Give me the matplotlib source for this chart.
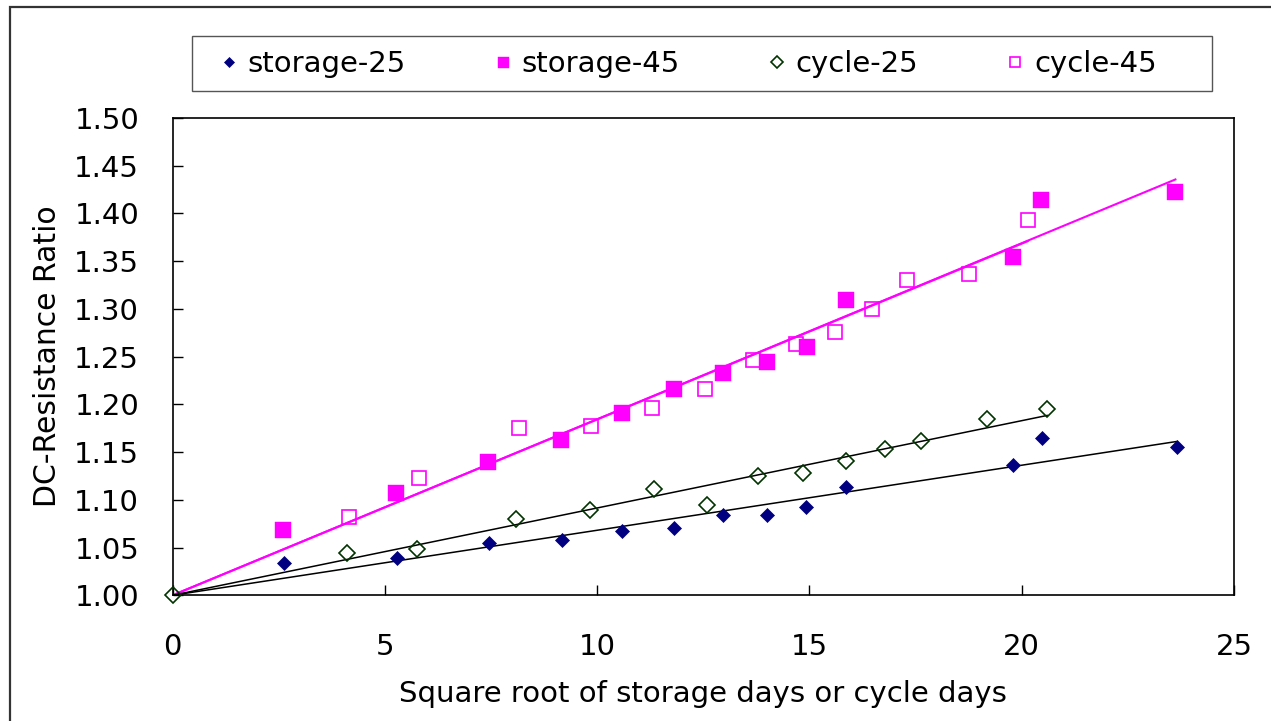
import numpy as np
import matplotlib.pyplot as plt
from matplotlib.patches import Rectangle

# DC resistance ratio vs sqrt(days), storage and cycle tests at 25 and 45 degC
storage25_x = [2.63, 5.28, 7.46, 9.17, 10.58, 11.81, 12.97, 13.99, 14.93, 15.86, 19.80, 20.48, 23.65]
storage25_y = [1.034, 1.039, 1.055, 1.058, 1.067, 1.071, 1.084, 1.084, 1.092, 1.113, 1.136, 1.165, 1.155]

storage45_x = [2.61, 5.26, 7.44, 9.15, 10.58, 11.80, 12.96, 13.99, 14.94, 15.86, 19.79, 20.46, 23.62]
storage45_y = [1.068, 1.107, 1.140, 1.163, 1.191, 1.216, 1.233, 1.244, 1.260, 1.309, 1.354, 1.414, 1.423]

cycle25_x = [0.0, 4.10, 5.75, 8.09, 9.83, 11.33, 12.60, 13.80, 14.86, 15.87, 16.77, 17.62, 19.19, 20.60]
cycle25_y = [1.000, 1.044, 1.049, 1.080, 1.089, 1.111, 1.095, 1.125, 1.128, 1.141, 1.153, 1.162, 1.185, 1.195]

cycle45_x = [4.16, 5.81, 8.16, 9.86, 11.29, 12.55, 13.67, 14.68, 15.61, 16.48, 17.29, 18.76, 20.14]
cycle45_y = [1.082, 1.123, 1.175, 1.177, 1.196, 1.216, 1.246, 1.263, 1.276, 1.300, 1.330, 1.337, 1.393]

x_ticks = [0, 5, 10, 15, 20, 25]
y_ticks = [1.00, 1.05, 1.10, 1.15, 1.20, 1.25, 1.30, 1.35, 1.40, 1.45, 1.50]

NAVY = '#000080'
MAGENTA = '#FF00FF'
GREEN = '#003300'


def trend_through_one(x, y):
    """Least-squares line forced through (0, 1)."""
    x = np.asarray(x)
    dy = np.asarray(y) - 1.0
    k = np.sum(x * dy) / np.sum(x * x)
    xs = np.array([0.0, x.max()])
    return xs, 1.0 + k * xs


plt.rcParams['font.family'] = ['DejaVu Sans']
fig = plt.figure(figsize=(12.71, 7.21), dpi=100)
W, H = 1271, 721
ax = fig.add_axes([172.5 / W, 1 - 595.3 / H, (1234 - 172.5) / W, (595.3 - 118) / H])

# trendlines
for xs, ys, col, lw in [(storage45_x, storage45_y, MAGENTA, 1.5),
                        (cycle45_x, cycle45_y, MAGENTA, 1.5),
                        (storage25_x, storage25_y, 'black', 1.1),
                        (cycle25_x, cycle25_y, 'black', 1.1)]:
    lx, ly = trend_through_one(xs, ys)
    ax.plot(lx, ly, color=col, lw=lw, zorder=2)

ax.plot(storage25_x, storage25_y, 'D', ms=7.3, color=NAVY, mec=NAVY, mew=0.5,
        ls='none', label='storage-25', zorder=3, clip_on=False)
ax.plot(storage45_x, storage45_y, 's', ms=11, color=MAGENTA, mec=MAGENTA, mew=0.3,
        ls='none', label='storage-45', zorder=3, clip_on=False)
ax.plot(cycle25_x, cycle25_y, 'D', ms=8.6, mfc='none', mec=GREEN, mew=1.2,
        ls='none', label='cycle-25', zorder=3, clip_on=False)
ax.plot(cycle45_x, cycle45_y, 's', ms=9.6, mfc='none', mec=MAGENTA, mew=1.2,
        ls='none', label='cycle-45', zorder=3, clip_on=False)

ax.set_xlim(0, 25)
ax.set_ylim(1.0, 1.5)
ax.set_xticks(x_ticks)
ax.set_yticks(y_ticks)
ax.set_yticklabels([f'{v:.2f}' for v in y_ticks])
ax.tick_params(axis='both', direction='in', length=7, width=1, labelsize=21)
ax.tick_params(axis='x', pad=27)
ax.tick_params(axis='y', pad=24)
for s in ax.spines.values():
    s.set_linewidth(1.2)
    s.set_color('black')

ax.set_xlabel('Square root of storage days or cycle days', fontsize=21, labelpad=14)
ax.set_ylabel('DC-Resistance Ratio', fontsize=21.5, labelpad=9)

# outer chart border and legend box
fig.patches.append(Rectangle((10 / W, -0.1), 1.2, 1 - 7 / H + 0.1, transform=fig.transFigure,
                             fill=False, ec='#333333', lw=1.6))
fig.patches.append(Rectangle((192 / W, 1 - 91 / H), (1212 - 192) / W, 55 / H,
                             transform=fig.transFigure, fill=False, ec='#555555', lw=1.0))

handles, labels = ax.get_legend_handles_labels()
fig.legend(handles, labels, loc='center left', bbox_to_anchor=(214 / W, 1 - 64 / H),
           ncol=4, frameon=False, fontsize=21, markerscale=0.72, handlelength=1.0,
           handletextpad=0.15, columnspacing=2.82, borderpad=0, borderaxespad=0)

fig.savefig('out.png', dpi=100)
